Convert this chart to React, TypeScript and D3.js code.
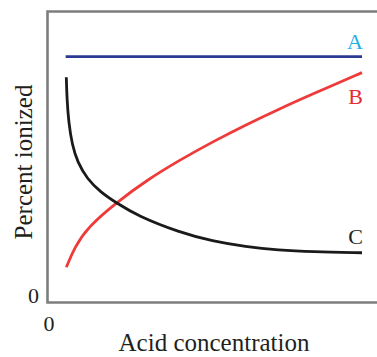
import React from 'react';
import * as d3 from 'd3';

// values (x: concentration 0-10, y: percent 0-100)
const aX = [0.55, 9.53];
const aY = [84.5, 84.5];

const bX = [0.57, 0.82, 1.21, 2.09, 3.03, 4, 5, 6, 7, 8, 9.53];
const bY = [12.1, 18.9, 25.8, 34.4, 42.2, 48.9, 55.2, 61, 66.4, 71.5, 79];

const cX = [0.57, 0.59, 0.64, 0.75, 0.91, 1.2, 1.6, 2.09, 2.73, 4, 5, 6, 7, 8, 9.53];
const cY = [77.4, 70, 62, 54, 48.2, 42.5, 38, 34.2, 29.8, 24.1, 21.1, 19.2, 18, 17.4, 17.1];

const seriesNames = ['A', 'B', 'C'];
const xTickLabels = ['0'];
const yTickLabels = ['0'];

const W = 377;
const H = 357;
const FONT = '"Liberation Serif", "Times New Roman", serif';

const App: React.FC = () => {
  const x = d3.scaleLinear().domain([0, 10]).range([47.5, 377.5]);
  const y = d3.scaleLinear().domain([0, 100]).range([302.5, 11.5]);

  const line = d3.line<[number, number]>()
    .x(d => x(d[0]))
    .y(d => y(d[1]))
    .curve(d3.curveBasis);

  const zip = (xs: number[], ys: number[]) => xs.map((v, i) => [v, ys[i]] as [number, number]);

  const series = [
    { name: seriesNames[0], pts: zip(aX, aY), color: '#2b3990', label: '#1fb1e6', dy: -8 },
    { name: seriesNames[1], pts: zip(bX, bY), color: '#ef3a3a', label: '#e62a33', dy: 31 },
    { name: seriesNames[2], pts: zip(cX, cY), color: '#1b1a1a', label: '#231f20', dy: -9 },
  ];

  const [x0, x1] = x.range();
  const [y0, y1] = y.range();

  return (
    <>
      <style>{'body{margin:0}'}</style>
      <svg width={W} height={H} style={{ display: 'block', fontFamily: FONT }}>
        <rect width={W} height={H} fill="#fff" />
        {/* frame: open on the right */}
        <path
          d={`M${x1},${y1}H${x0}V${y0}H${x1}`}
          fill="none"
          stroke="#7d7d7d"
          strokeWidth={2.6}
        />

        {series.map(s => {
          const last = s.pts[s.pts.length - 1];
          return (
            <g key={s.name}>
              <path d={line(s.pts) ?? ''} fill="none" stroke={s.color} strokeWidth={2.8} strokeLinecap="butt" />
              <text
                x={x(last[0]) + 1}
                y={y(last[1]) + s.dy}
                textAnchor="end"
                fill={s.label}
                fontSize={22}
              >
                {s.name}
              </text>
            </g>
          );
        })}

        <text x={33.5} y={y(0)} textAnchor="middle" fontSize={22} fill="#231f20">{yTickLabels[0]}</text>
        <text x={x(0) + 1.5} y={331} textAnchor="middle" fontSize={22} fill="#231f20">{xTickLabels[0]}</text>

        <text x={214} y={351} textAnchor="middle" fontSize={25} fill="#231f20">
          Acid concentration
        </text>
        <text
          transform={`translate(32,162) rotate(-90)`}
          textAnchor="middle"
          fontSize={25}
          fill="#231f20"
        >
          Percent ionized
        </text>
      </svg>
    </>
  );
};

export default App;
